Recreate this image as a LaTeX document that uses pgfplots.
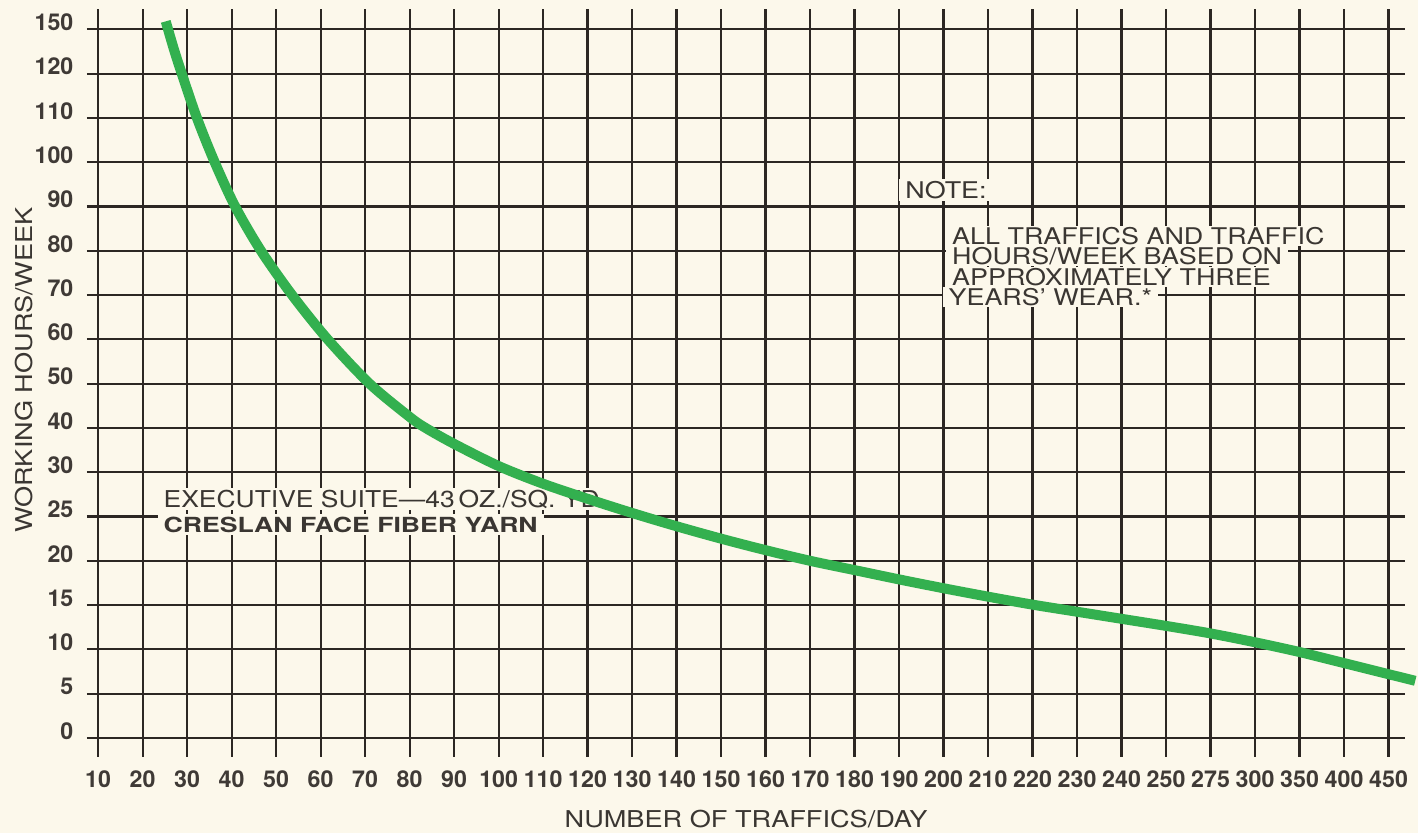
\documentclass[border=0pt]{standalone}
\usepackage{fontspec}
\setmainfont{TeX Gyre Heros}
\newfontfamily\labfont{TeX Gyre Heros}[FakeStretch=1.17]
\newfontfamily\notefont{TeX Gyre Heros}[FakeStretch=1.17]
\newfontfamily\execfont{TeX Gyre Heros}[FakeStretch=1.14]
\newfontfamily\boldwide{TeX Gyre Heros}[FakeStretch=1.28]
\usepackage{pgfplots}
\pgfplotsset{compat=1.18}
\usepackage{pgfplotstable}
\definecolor{bgc}{HTML}{FCF8EB}
\definecolor{gridc}{HTML}{2C2723}
\definecolor{txtc}{HTML}{3A3632}
\definecolor{tickc}{HTML}{3F3A36}
\definecolor{curvec}{HTML}{33B04F}
\tikzset{notestyle/.style={anchor=base west, fill=bgc, inner xsep=3pt, inner ysep=0.9pt,
    text height=8.25pt, text depth=0pt, text=txtc,
    font=\notefont\fontsize{11.5}{12}\selectfont}}
% Curve in grid-index coordinates:
% x index i -> traffics/day label (10,20,...,250,275,300,350,400,450)
% y index j -> hours/week label (0,5,10,15,20,25,30,40,...,120,150)
\pgfplotstableread{
x y
1.52 16.18
1.70 15.56
1.88 15.00
2.22 14.00
2.62 13.00
3.08 12.00
3.66 11.00
4.36 10.00
5.16 9.00
6.10 8.00
7.00 7.25
7.36 7.00
8.00 6.64
9.00 6.14
10.0 5.74
11.0 5.40
12.0 5.08
13.0 4.78
14.0 4.50
15.0 4.24
16.0 4.00
17.0 3.79
18.0 3.58
19.0 3.38
20.0 3.19
21.0 3.01
22.0 2.85
23.0 2.69
24.0 2.53
25.0 2.36
26.0 2.16
27.0 1.94
28.0 1.69
29.0 1.44
29.6 1.29
}\curvedata
\begin{document}
\begin{tikzpicture}
\path[use as bounding box, fill=bgc] (-43.5pt,-38pt) rectangle (665.5pt,378.5pt);
\begin{axis}[
  at={(0,0)}, anchor=south west,
  scale only axis, width=659pt, height=374pt,
  xmin=-0.25, xmax=29.37, ymin=-0.43, ymax=16.46,
  xtick={0,...,29}, ytick={0,...,16},
  xticklabels={10,20,30,40,50,60,70,80,90,100,110,120,130,140,150,160,170,180,190,200,210,220,230,240,250,275,300,350,400,450},
  yticklabels={0,5,10,15,20,25,30,40,50,60,70,80,90,100,110,120,150},
  grid=major, grid style={line width=1.1pt, draw=gridc},
  axis line style={draw=none},
  major tick length=0pt, tick style={draw=none},
  clip=false,
  /pgf/number format/assume math mode=true,
  ticklabel style={font=\fontsize{11.6}{13}\selectfont\bfseries, text=tickc},
  xticklabel style={yshift=-3.3pt},
  yticklabel style={xshift=-3.3pt, yshift=3.5pt},
  xlabel={NUMBER OF TRAFFICS/DAY},
  ylabel={WORKING HOURS/WEEK},
  every axis x label/.style={at={(rel axis cs:0.5,-0.0936)}, anchor=base,
    font=\labfont\fontsize{11.6}{14}\selectfont, text=txtc},
  every axis y label/.style={at={(rel axis cs:-0.0417,0.517)}, anchor=base, rotate=90,
    font=\labfont\fontsize{11.6}{14}\selectfont, text=txtc},
]
\node[notestyle, inner ysep=1.5pt] at (axis cs:18.0,12.19) {NOTE:};
\node[notestyle] at (axis cs:19.05,11.149) {ALL TRAFFICS AND TRAFFIC};
\node[notestyle] at (axis cs:19.05,10.686) {HOURS/WEEK BASED ON};
\node[notestyle] at (axis cs:19.05,10.223) {APPROXIMATELY THREE};
\node[notestyle] at (axis cs:18.97,9.761) {YEARS’ WEAR.*};
\node[anchor=base west, fill=bgc, inner xsep=3pt, inner ysep=1.4pt, text=txtc,
  text height=8.3pt, text depth=0pt,
  font=\execfont\fontsize{11.6}{14}\selectfont] at (axis cs:1.33,5.21) {EXECUTIVE SUITE—43\,OZ./SQ. YD.};
\node[anchor=base west, fill=bgc, inner xsep=3pt, inner ysep=1.4pt, text=txtc,
  text height=7.5pt, text depth=0pt,
  font=\boldwide\bfseries\fontsize{10.4}{13}\selectfont] at (axis cs:1.33,4.65) {CRESLAN FACE FIBER YARN};
\addplot[smooth, line width=5pt, draw=curvec] table[x=x,y=y] {\curvedata};
\end{axis}
\end{tikzpicture}
\end{document}
